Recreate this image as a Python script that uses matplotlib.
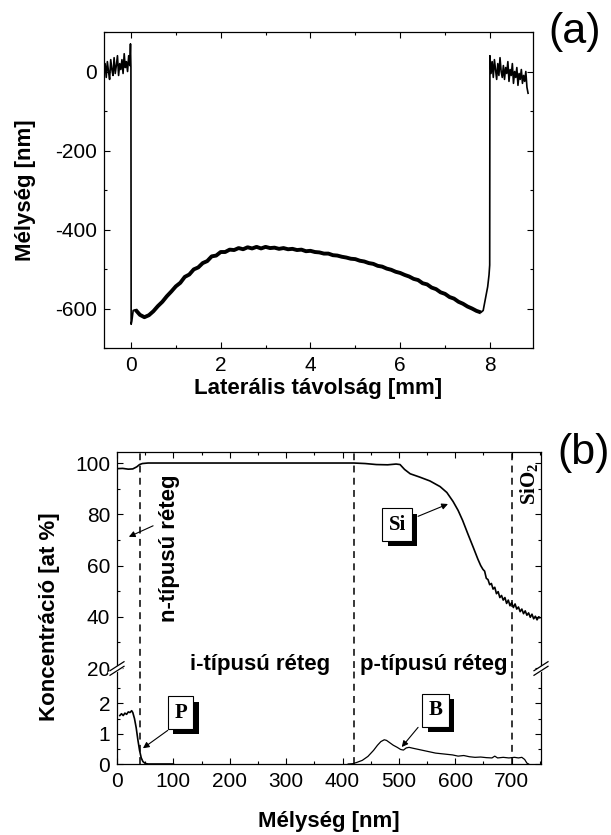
import numpy as np
import matplotlib
matplotlib.use("Agg")
import matplotlib.pyplot as plt
from matplotlib import patheffects
from matplotlib.lines import Line2D
from matplotlib.ticker import MultipleLocator, FixedLocator

plt.rcParams['font.family'] = ['Liberation Sans', 'DejaVu Sans']
plt.rcParams['axes.unicode_minus'] = False
plt.rcParams['mathtext.fontset'] = 'custom'
plt.rcParams['mathtext.rm'] = 'Liberation Serif:bold'
plt.rcParams['mathtext.bf'] = 'Liberation Serif:bold'

# ---- (a) profilometer trace ----
left_y = [-5, 20, -15, 25, 0, -20, 30, 5, -10, 35, -5, 15,
          40, -10, 20, 5, 30, -5, 45, 10, 25, 0, 40, 15]
spike_x = [-0.01, 0.0, 0.005, 0.02, 0.05]
spike_y = [70, 10, -640, -632, -605]
arc_y = [-603, -616, -622, -617, -607, -594, -583, -569, -557, -544,
         -535, -520, -514, -501, -496, -485, -480, -468, -466, -457,
         -457, -451, -452, -447, -450, -445, -448, -444, -448, -444,
         -447, -446, -449, -447, -450, -449, -452, -451, -455, -454,
         -457, -458, -461, -461, -465, -466, -469, -471, -474, -475,
         -479, -481, -485, -487, -492, -494, -499, -502, -507, -510,
         -515, -519, -525, -528, -536, -539, -547, -551, -559, -563,
         -571, -575, -583, -588, -595, -600, -606, -610]
rise_x = [7.85, 7.9, 7.95, 7.98, 7.995]
rise_y = [-605, -575, -545, -515, -490]
right_y = [40, -5, 25, -15, 30, 5, -20, 20, -10, 35, 0, -15, 15, -20,
           10, -5, 25, -25, 5, -10, 20, -30, 0, -15, 10, -35, -5, -20,
           5, -30, -10, -25, 0, -40, -55]

left_x = np.linspace(-0.6, -0.025, len(left_y))
arc_x = np.linspace(0.1, 7.8, len(arc_y))
right_x = np.linspace(8.0, 8.85, len(right_y))
prof_x = np.concatenate([left_x, spike_x, arc_x, rise_x, right_x])
prof_y = np.concatenate([left_y, spike_y, arc_y, rise_y, right_y])

# ---- (b) depth profile ----
si_x = [0, 10, 20, 28, 35, 40, 45, 55, 100, 200, 300, 400, 420, 440, 460,
        480, 495, 502, 510, 520, 537, 555, 573, 585, 596, 605, 613, 622,
        632, 640, 645, 649, 652, 655, 658, 661, 664, 667, 670, 673, 676,
        679, 682, 685, 688, 691, 694, 697, 700, 703, 706, 709, 712, 715,
        718, 721, 724, 727, 730, 733, 736, 739, 742, 745, 748, 750]
si_y = [97.8, 97.9, 97.6, 97.7, 98.5, 99.4, 99.8, 100, 100, 100, 100, 100,
        100, 99.8, 99.4, 99.3, 99.6, 99.4, 97.5, 95.8, 94.5, 93, 90.8, 88.5,
        85, 81.5, 77.6, 72.5, 67, 62.5, 60, 58.5, 57.8, 55, 54.5, 52.5, 53,
        50.8, 51.5, 49, 49.8, 47.5, 48.3, 46.5, 47.5, 45.2, 46.5, 44.3,
        45.5, 43.6, 45, 43, 43.8, 42, 43, 41.2, 42.3, 40.6, 41.5, 39.8, 41,
        39.2, 40.2, 38.8, 40, 39.6]
p_x = [5, 8, 11, 14, 17, 20, 23, 26, 28, 31, 34, 37, 40, 43, 46, 50, 55, 100]
p_y = [1.6, 1.66, 1.6, 1.68, 1.64, 1.72, 1.7, 1.76, 1.7, 1.5, 1.2, 0.8,
       0.45, 0.2, 0.08, 0.02, 0.0, 0.0]
b_x = [410, 418, 425, 435, 445, 455, 462, 468, 474, 478, 484, 490, 497, 503,
       508, 513, 518, 525, 535, 545, 555, 565, 575, 585, 595, 605, 615, 625,
       635, 645, 655, 665, 670, 675, 685, 695, 705, 712, 718, 723, 727, 730]
b_y = [0, 0.01, 0.05, 0.12, 0.25, 0.45, 0.62, 0.74, 0.8, 0.78, 0.7, 0.62,
       0.55, 0.48, 0.46, 0.53, 0.55, 0.52, 0.48, 0.44, 0.4, 0.36, 0.34, 0.32,
       0.3, 0.26, 0.28, 0.24, 0.22, 0.23, 0.21, 0.2, 0.26, 0.2, 0.22, 0.2,
       0.22, 0.2, 0.22, 0.15, 0.03, 0.0]
boundaries = [40, 420, 700]

W, H = 611, 835


def fx(px):
    return px / W


def fy(py):
    return 1 - py / H


fig = plt.figure(figsize=(W / 100, H / 100), dpi=100)

ax_a = fig.add_axes([fx(104), fy(348), (533 - 104) / W, (348 - 32) / H])
ax_top = fig.add_axes([fx(117), fy(668), (541 - 117) / W, (668 - 452) / H])
ax_bot = fig.add_axes([fx(117), fy(764), (541 - 117) / W, (764 - 668) / H])

# panel a
ax_a.plot(prof_x, prof_y, color='k', lw=1.2)
ax_a.plot(arc_x, arc_y, color='k', lw=2.8, solid_capstyle='butt')
ax_a.set_xlim(-0.6, 8.96)
ax_a.set_ylim(-700, 100)
ax_a.xaxis.set_major_locator(MultipleLocator(2))
ax_a.xaxis.set_minor_locator(MultipleLocator(1))
ax_a.yaxis.set_major_locator(MultipleLocator(200))
ax_a.yaxis.set_minor_locator(MultipleLocator(100))
ax_a.set_xlabel('Laterális távolság [mm]', fontsize=16, fontweight='bold', labelpad=2)
ax_a.set_ylabel('Mélység [nm]', fontsize=16, fontweight='bold', labelpad=14)

for ax in (ax_a, ax_top, ax_bot):
    ax.tick_params(which='both', direction='in', top=True, right=True,
                   labelsize=15, width=0.8)
    ax.tick_params(which='major', length=4)
    ax.tick_params(which='minor', length=2.5)
    ax.tick_params(axis='x', pad=6)
    ax.tick_params(axis='y', pad=5)
    for sp in ax.spines.values():
        sp.set_linewidth(0.9)

# panel b
ax_top.plot(si_x, si_y, color='k', lw=1.2)
ax_bot.plot(p_x, p_y, color='k', lw=1.2)
ax_bot.plot(b_x, b_y, color='k', lw=0.9)
for ax in (ax_top, ax_bot):
    ax.patch.set_visible(False)
    ax.set_xlim(0, 752)
    ax.xaxis.set_major_locator(MultipleLocator(100))
    ax.xaxis.set_minor_locator(MultipleLocator(50))
    for b in boundaries:
        ax.axvline(b, color='k', lw=1.1, ls=(0, (4.5, 3.5)))
ax_top.set_ylim(20, 104.3)
ax_top.yaxis.set_major_locator(MultipleLocator(20))
ax_top.yaxis.set_minor_locator(MultipleLocator(10))
ax_top.spines['bottom'].set_visible(False)
ax_top.tick_params(which='both', bottom=False, labelbottom=False)
ax_bot.set_ylim(0, 3.17)
ax_bot.yaxis.set_major_locator(FixedLocator([0, 1, 2]))
ax_bot.yaxis.set_minor_locator(FixedLocator([0.5, 1.5, 2.5]))
ax_bot.spines['top'].set_visible(False)
ax_bot.tick_params(which='both', top=False)
ax_bot.set_xlabel('Mélység [nm]', fontsize=16, fontweight='bold', labelpad=14)
fig.text(fx(50), fy(617), 'Koncentráció [at %]', rotation=90, fontsize=16,
         fontweight='bold', ha='center', va='center')

# break marks
for xs in (117, 541):
    fig.add_artist(Line2D([fx(xs - 6), fx(xs + 7)], [fy(673), fy(665)],
                          color='white', lw=3.5, zorder=10))
    for dy in (-2.3, 2.3):
        fig.add_artist(Line2D([fx(xs - 7), fx(xs + 7)],
                              [fy(673 + dy), fy(664 + dy)],
                              color='k', lw=0.9, zorder=11))

# layer labels
ax_top.text(94, 66.9, 'n-típusú réteg', rotation=90, fontsize=16,
            fontweight='bold', ha='center', va='center')
fig.text(fx(117 + 253 * 0.5638), fy(670), 'i-típusú réteg', fontsize=16,
         fontweight='bold', ha='center', va='baseline', zorder=12)
fig.text(fx(117 + 561 * 0.5638), fy(670), 'p-típusú réteg', fontsize=16,
         fontweight='bold', ha='center', va='baseline', zorder=12)
ax_top.text(732, 91.8, r'SiO$_{2}$', rotation=90, fontsize=15,
            family='Liberation Serif', fontweight='bold',
            ha='center', va='center')


def boxed(ax, x, y, s):
    t = ax.text(x, y, s, ha='center', va='center', fontsize=15,
                family='Liberation Serif', fontweight='bold', color='k',
                bbox=dict(boxstyle='square,pad=0.3', fc='white', ec='k', lw=0.8),
                zorder=6)
    t.get_bbox_patch().set_path_effects([
        patheffects.SimplePatchShadow(offset=(3.8, -3.8), shadow_rgbFace='k',
                                      alpha=1.0),
        patheffects.Normal()])


arrow = dict(arrowstyle='-|>', lw=0.8, color='k', mutation_scale=9,
             shrinkA=0, shrinkB=0)
boxed(ax_top, 497, 76, 'Si')
ax_top.annotate('', xy=(587, 84), xytext=(534, 79.2), arrowprops=arrow)
ax_top.annotate('', xy=(21, 71.2), xytext=(64, 75.5), arrowprops=arrow)
boxed(ax_bot, 113, 1.7, 'P')
ax_bot.annotate('', xy=(46, 0.52), xytext=(90, 1.11), arrowprops=arrow)
boxed(ax_bot, 565, 1.77, 'B')
ax_bot.annotate('', xy=(505, 0.56), xytext=(534, 1.21), arrowprops=arrow)

fig.text(fx(575), fy(32), '(a)', fontsize=31, ha='center', va='center')
fig.text(fx(584), fy(453), '(b)', fontsize=31, ha='center', va='center')

fig.savefig('out.png', dpi=100)
